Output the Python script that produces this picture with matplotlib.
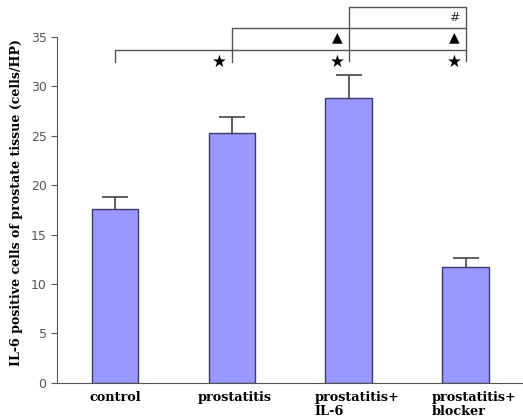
import numpy as np
import matplotlib.pyplot as plt
import matplotlib.transforms as mtrans

groups = ['control', 'prostatitis', 'prostatitis+\nIL-6', 'prostatitis+\nblocker']
means = [17.6, 25.3, 28.8, 11.7]
errs = [1.2, 1.6, 2.3, 0.9]
y_ticks = [0, 5, 10, 15, 20, 25, 30, 35]

fig = plt.figure(figsize=(5.23, 4.18), dpi=100)
ax = fig.add_axes([0.109, 0.084, 0.891, 0.828])

x = np.arange(len(groups))
means = np.array(means)
errs = np.array(errs)
ax.bar(x, means, width=0.4, color='#9999FF', edgecolor='#3c3c6c', linewidth=1.0)
# upper error bars only
ax.vlines(x, means, means + errs, color='#444444', lw=1.2)
ax.hlines(means + errs, x - 0.11, x + 0.11, color='#444444', lw=1.2)

ax.set_xlim(-0.496, 3.49)
ax.set_ylim(0, 35)
ax.set_yticks(y_ticks)
ax.tick_params(axis='y', labelsize=9, colors='#555555', length=4, width=0.8)
ax.tick_params(axis='x', length=0, pad=6)
ax.set_xticks(x)
ax.set_xticklabels(groups, fontfamily='DejaVu Serif', fontweight='bold',
                   fontsize=9.3, ha='center', multialignment='left', linespacing=1.05)
for lab, off in zip(ax.get_xticklabels(), [0, 3, 8, 8]):
    lab.set_transform(lab.get_transform() + mtrans.ScaledTranslation(off / 100, 0, fig.dpi_scale_trans))

ax.set_ylabel('IL-6 positive cells of prostate tissue (cells/HP)',
              fontfamily='DejaVu Serif', fontweight='bold', fontsize=9.1)
ax.yaxis.set_label_coords(-0.073, 0.522)

for s in ['top', 'right']:
    ax.spines[s].set_visible(False)
ax.spines['left'].set_color('#555555')
ax.spines['bottom'].set_color('#555555')

# significance brackets
lc = '#555555'
def bracket(x1, x2, y, y1_low, y2_low):
    ax.plot([x1, x1, x2, x2], [y1_low, y, y, y2_low], color=lc, lw=1.0, clip_on=False)

bracket(0, 3, 33.7, 32.4, 32.6)
bracket(1, 3, 35.9, 32.4, 33.7)
bracket(2, 3, 38.0, 32.6, 35.9)

star_x = [0.89, 1.9, 2.9]
for sx in star_x:
    ax.text(sx, 32.5, '★', ha='center', va='center', fontsize=12, color='black', clip_on=False)
for tx in [1.9, 2.9]:
    ax.text(tx, 35.0, '▲', ha='center', va='center', fontsize=10, color='black', clip_on=False)
ax.text(2.9, 37.0, '#', ha='center', va='center', fontsize=9, color='#333333', clip_on=False)

fig.savefig('out.png', dpi=100)
